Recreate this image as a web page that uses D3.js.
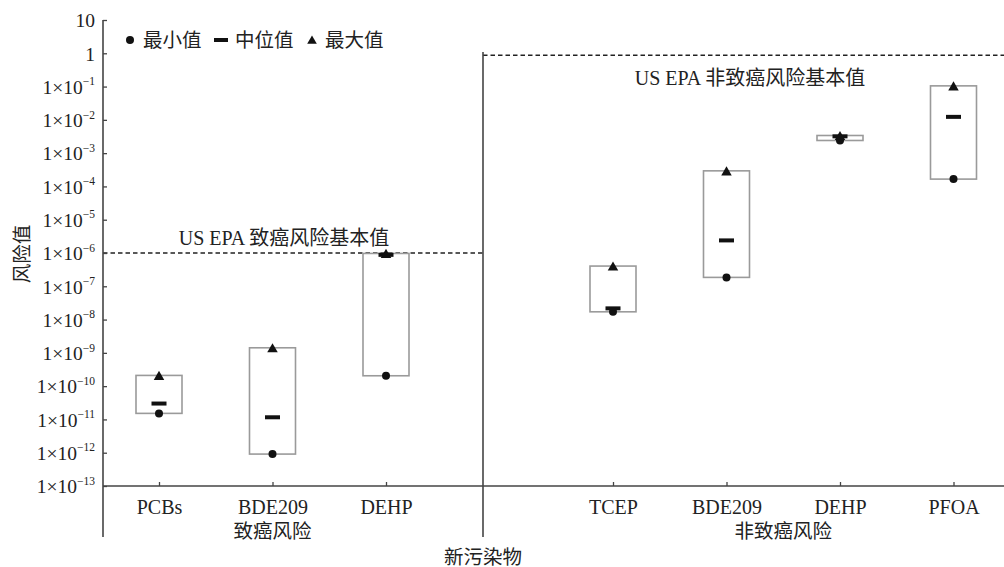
<!DOCTYPE html>
<html><head><meta charset="utf-8">
<script src="https://cdn.jsdelivr.net/npm/d3@7"></script>
<style>
html,body{margin:0;padding:0;background:#fff;}
text{font-family:"Liberation Serif","Noto Sans CJK SC",serif;fill:#222;}
</style></head>
<body><svg id="chart" width="1004" height="567"></svg>
<script>
// ---- data ----
const categories = ["PCBs","BDE209","DEHP","TCEP","BDE209","DEHP","PFOA"];
const groups = ["致癌风险","致癌风险","致癌风险","非致癌风险","非致癌风险","非致癌风险","非致癌风险"];
const minVals = [1.52e-11, 9.1e-13, 2.05e-10, 1.71e-8, 1.85e-7, 2.4e-3, 1.66e-4];
const medVals = [3.0e-11, 1.16e-11, 8.8e-7, 2.17e-8, 2.39e-6, 3.2e-3, 1.23e-2];
const maxVals = [2.1e-10, 1.42e-9, 9.7e-7, 4.05e-7, 2.94e-4, 3.39e-3, 0.105];
const groupNames = ["致癌风险","非致癌风险"];
const thresholds = [1e-6, 0.87];
const thresholdLabels = ["US EPA 致癌风险基本值","US EPA 非致癌风险基本值"];
const tickExps = [1,0,-1,-2,-3,-4,-5,-6,-7,-8,-9,-10,-11,-12,-13];
const legendLabels = ["最小值","中位值","最大值"];
const xTitle = "新污染物";
const yTitle = "风险值";

(function(){
// ---- layout ----
const svg = d3.select("#chart");
const pLeft = 103, pRight = 1004, pTop = 20, pBottom = 486, divX = 483;
const y = d3.scaleLog().domain([1e-13, 10]).range([pBottom, pTop]);
const keys = categories.map((c,i)=>groups[i]+"|"+c);
const domain = [...keys.slice(0,3), "gap", ...keys.slice(3)];
const x = d3.scalePoint().domain(domain).range([159, 953.5]);
const data = categories.map((c,i)=>({key:keys[i], cat:c, group:groups[i], min:minVals[i], med:medVals[i], max:maxVals[i]}));
const ink = "#222", axisCol = "#444";

// threshold lines
const thrSpans = [[pLeft, divX],[divX, pRight]];
svg.selectAll(".thr").data(thresholds).join("line")
  .attr("x1",(d,i)=>thrSpans[i][0]).attr("x2",(d,i)=>thrSpans[i][1])
  .attr("y1",d=>y(d)).attr("y2",d=>y(d))
  .attr("stroke","#222").attr("stroke-width",1.5).attr("stroke-dasharray","4.5,3");
const thrLabelX = [284, 750];
svg.selectAll(".thrl").data(thresholds).join("text")
  .attr("x",(d,i)=>thrLabelX[i]).attr("y",(d,i)=>y(d)-(i===0?8:-30))
  .attr("text-anchor","middle").attr("font-size","20px")
  .text((d,i)=>thresholdLabels[i]);

// boxes
const bw = 46;
svg.selectAll(".box").data(data).join("rect")
  .attr("x",d=>x(d.key)-bw/2).attr("width",bw)
  .attr("y",d=>y(d.max)).attr("height",d=>Math.max(1,y(d.min)-y(d.max)))
  .attr("fill","none").attr("stroke","#9a9a9a").attr("stroke-width",1.6);

// markers
svg.selectAll(".mn").data(data).join("circle")
  .attr("cx",d=>x(d.key)).attr("cy",d=>y(d.min)).attr("r",4).attr("fill","#111");
svg.selectAll(".md").data(data).join("rect")
  .attr("x",d=>x(d.key)-7.5).attr("y",d=>y(d.med)-2).attr("width",15).attr("height",4).attr("fill","#111");
const tri = d3.symbol().type(d3.symbolTriangle).size(48);
svg.selectAll(".mx").data(data).join("path")
  .attr("transform",d=>`translate(${x(d.key)},${y(d.max)+1.5})`).attr("d",tri).attr("fill","#111");

// y axis
const yAxis = d3.axisLeft(y).tickValues(tickExps.map(e=>Math.pow(10,e))).tickSize(-4).tickPadding(8).tickFormat("");
const gy = svg.append("g").attr("transform",`translate(${pLeft},0)`).call(yAxis);
gy.select(".domain").remove();
gy.selectAll(".tick line").attr("stroke",axisCol).attr("stroke-width",1.3);
gy.selectAll(".tick").each(function(d,i){
  const t = d3.select(this).select("text").attr("font-size","19.5px").attr("fill",ink)
    .attr("font-family","Liberation Serif").attr("dy","0.35em");
  const e = tickExps[i];
  if (e === 1) t.text("10");
  else if (e === 0) t.text("1");
  else {
    t.append("tspan").text("1×10");
    t.append("tspan").attr("font-size","11.5px").attr("dy","-0.75em").text("−"+(-e));
  }
});
svg.append("line").attr("x1",pLeft).attr("x2",pLeft).attr("y1",pTop).attr("y2",537)
  .attr("stroke",axisCol).attr("stroke-width",1.6);

// x axis
const xAxis = d3.axisBottom(x).tickValues(keys).tickSize(-4).tickPadding(14)
  .tickFormat(k=>k.split("|")[1]);
const gx = svg.append("g").attr("transform",`translate(0,${pBottom})`).call(xAxis);
gx.select(".domain").remove();
gx.selectAll(".tick line").attr("stroke",axisCol).attr("stroke-width",1.3);
gx.selectAll(".tick text").attr("font-size","20px").attr("fill",ink).attr("font-family","Liberation Serif");
svg.append("line").attr("x1",pLeft).attr("x2",pRight).attr("y1",pBottom).attr("y2",pBottom)
  .attr("stroke",axisCol).attr("stroke-width",1.6);
svg.append("line").attr("x1",divX).attr("x2",divX).attr("y1",52).attr("y2",537)
  .attr("stroke",axisCol).attr("stroke-width",1.6);

// group labels
svg.selectAll(".grp").data(groupNames).join("text")
  .attr("x",g=>{const ks=data.filter(d=>d.group===g).map(d=>x(d.key)); return (d3.min(ks)+d3.max(ks))/2;})
  .attr("y",538).attr("text-anchor","middle").attr("font-size","19.5px").text(g=>g);

// titles
svg.append("text").attr("x",divX).attr("y",564).attr("text-anchor","middle").attr("font-size","19.5px").text(xTitle);
svg.append("text").attr("transform","translate(29,254) rotate(-90)").attr("text-anchor","middle")
  .attr("font-size","19.5px").text(yTitle);

// legend
const lg = svg.append("g");
lg.append("circle").attr("cx",130).attr("cy",40).attr("r",4).attr("fill","#111");
lg.append("text").attr("x",143).attr("y",47).attr("font-size","19.5px").text(legendLabels[0]);
lg.append("rect").attr("x",214).attr("y",38).attr("width",14).attr("height",4).attr("fill","#111");
lg.append("text").attr("x",235).attr("y",47).attr("font-size","19.5px").text(legendLabels[1]);
lg.append("path").attr("transform","translate(312,41)").attr("d",d3.symbol().type(d3.symbolTriangle).size(40)).attr("fill","#111");
lg.append("text").attr("x",325).attr("y",47).attr("font-size","19.5px").text(legendLabels[2]);
})();
</script></body></html>
